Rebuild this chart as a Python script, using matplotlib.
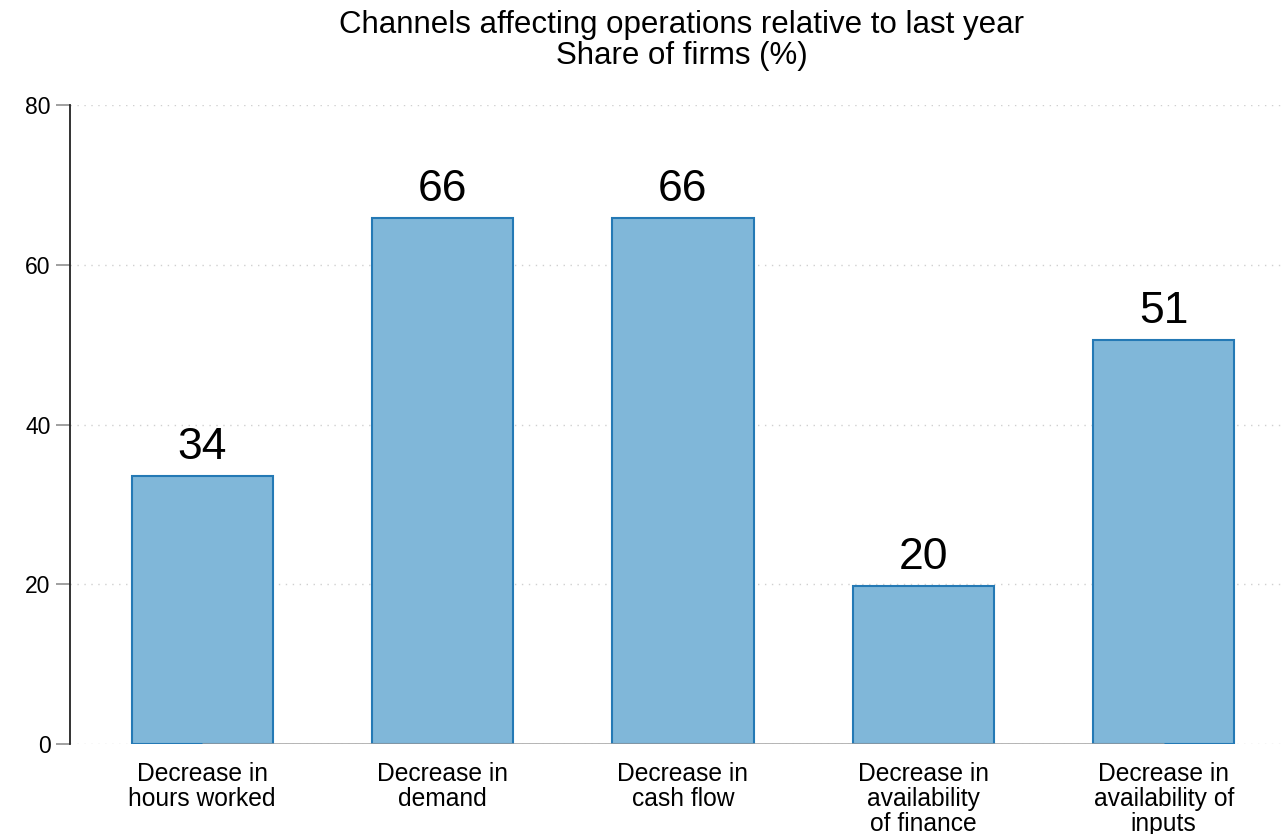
import matplotlib.pyplot as plt
import numpy as np

categories = [
    "Decrease in\nhours worked",
    "Decrease in\ndemand",
    "Decrease in\ncash flow",
    "Decrease in\navailability\nof finance",
    "Decrease in\navailability of\ninputs",
]
shares = [33.6, 65.9, 65.8, 19.8, 50.6]
y_ticks = [0, 20, 40, 60, 80]

plt.rcParams["font.family"] = ["Liberation Sans", "DejaVu Sans"]

fill = "#80b7d9"
edge = "#2479b5"

fig = plt.figure(figsize=(12.86, 8.34), dpi=100)
ax = fig.add_axes([0.0544, 0.108, 0.944, 0.766])

x = np.arange(len(categories))
bars = ax.bar(x, shares, width=0.5875, color=fill, edgecolor=edge, linewidth=1.5, zorder=3)
for rect, v in zip(bars, shares):
    ax.text(rect.get_x() + rect.get_width() / 2, v + 1.0, f"{v:.0f}",
            ha="center", va="bottom", fontsize=32, color="black")

# dotted grid, solid baseline between the outer category centres
for t in y_ticks:
    ax.axhline(t, color="#d0d0d0", lw=1.0, ls=(0, (1, 4)), zorder=1)
ax.hlines(0, x[0], x[-1], color="#a0a0a0", lw=1.8, zorder=4)

ax.set_xlim(-0.55, 4.5)
ax.set_ylim(0, 80)
ax.set_yticks(y_ticks)
ax.set_xticks(x)
ax.set_xticklabels(categories, fontsize=17.7, linespacing=1.04)
ax.tick_params(axis="x", length=0, pad=13)
ax.tick_params(axis="y", length=10, width=1.2, color="#909090", labelsize=16.5, pad=4)
for s in ["top", "right", "bottom"]:
    ax.spines[s].set_visible(False)
ax.spines["left"].set_color("#222222")
ax.spines["left"].set_linewidth(1.3)

fig.text(0.53, 0.988, "Channels affecting operations relative to last year\nShare of firms (%)",
         ha="center", va="top", fontsize=22.5, linespacing=1.05)

fig.savefig("out.png", dpi=100)
